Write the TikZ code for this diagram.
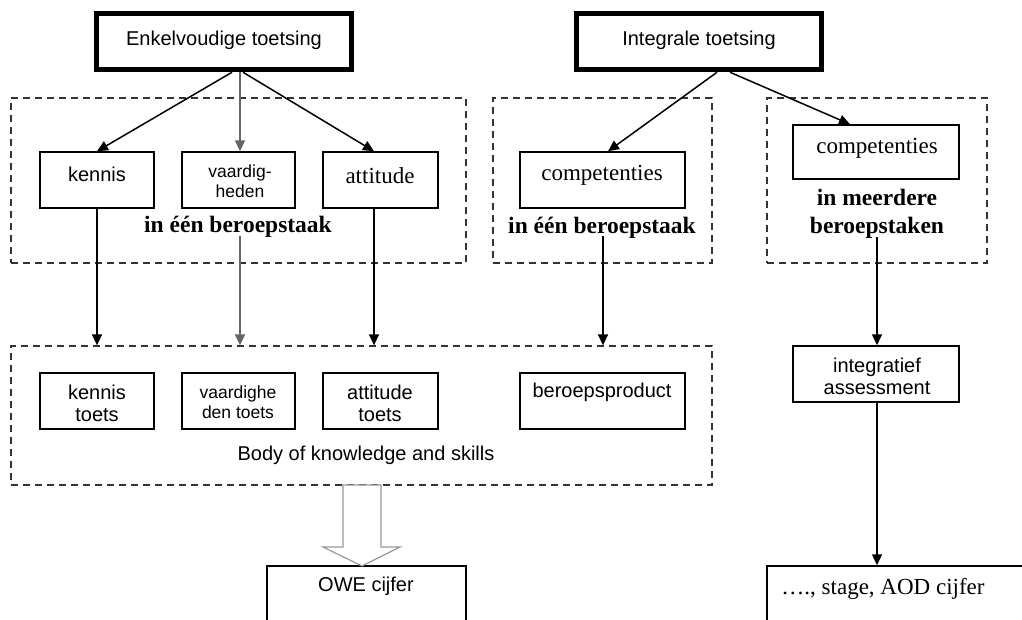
\documentclass[tikz,border=0pt]{standalone}
\usepackage{fontspec}
\setmainfont{Liberation Serif}
\setsansfont{Liberation Sans}
\usetikzlibrary{arrows.meta}
\begin{document}
\begin{tikzpicture}[x=1pt,y=-1pt,
  sans/.style={font=\sffamily\fontsize{20}{22}\selectfont, inner sep=0pt},
  sanssm/.style={font=\sffamily\fontsize{17.5}{20}\selectfont, inner sep=0pt},
  serif/.style={font=\rmfamily\fontsize{23}{28}\selectfont, inner sep=0pt},
  serifb/.style={font=\rmfamily\bfseries\fontsize{23.5}{28}\selectfont, inner sep=0pt},
  box/.style={draw, line width=1.5pt, inner sep=0pt},
  bigbox/.style={draw, line width=5.5pt, inner sep=0pt},
  dbox/.style={draw=black!80, dash pattern=on 7pt off 5pt, line width=1.3pt, inner sep=0pt},
  arr/.style={line width=1.5pt, -{Triangle[length=11pt,width=10pt]}},
  garr/.style={arr, draw=black!60, fill=black!75},
]
\clip (0,0) rectangle (1022,619);
\fill[white] (0,0) rectangle (1022,619);

% top boxes
\node[bigbox, minimum width=255, minimum height=56] (enk) at (224,41.5) {};
\node[sans] (enkT) at (224,40) {Enkelvoudige toetsing};
\node[bigbox, minimum width=245, minimum height=56] (int) at (699,41.5) {};
\node[sans] (intT) at (699,40) {Integrale toetsing};

% dashed groups
\node[dbox, minimum width=455, minimum height=165] (g1) at (238.5,180.5) {};
\node[dbox, minimum width=219, minimum height=165] (g2) at (602.5,180.5) {};
\node[dbox, minimum width=220, minimum height=165] (g3) at (877,180.5) {};
\node[dbox, minimum width=701, minimum height=139] (bok) at (361.5,415.5) {};

% row 1 boxes
\node[box, minimum width=114, minimum height=56] (ken) at (97,180) {};
\node[sans] (kenT) at (97,174) {kennis};
\node[box, minimum width=113, minimum height=56] (vaa) at (238.5,180) {};
\node[sanssm, align=center] (vaaT) at (240,181) {vaardig-\\heden};
\node[box, minimum width=115, minimum height=56] (att) at (380.5,180) {};
\node[serif] (attT) at (380,176) {attitude};
\node[box, minimum width=165, minimum height=56] (cp1) at (602.5,180) {};
\node[serif] (cp1T) at (602,175) {competenties};
\node[box, minimum width=166, minimum height=54] (cp2) at (876,152) {};
\node[serif] (cp2T) at (877,148) {competenties};

\node[serifb] (ib1) at (238,227) {in één beroepstaak};
\node[serifb] (ib2) at (602,228) {in één beroepstaak};
\node[serifb, align=center] (imb) at (877,214) {in meerdere\\beroepstaken};

% row 2 boxes
\node[box, minimum width=114, minimum height=56] (kt) at (97,401) {};
\node[sans, align=center] (ktT) at (97,403) {kennis\\toets};
\node[box, minimum width=113, minimum height=56] (vt) at (238.5,401) {};
\node[sanssm, align=center] (vtT) at (238,402) {vaardighe\\den toets};
\node[box, minimum width=115, minimum height=56] (at) at (380.5,401) {};
\node[sans, align=center] (atT) at (380,403) {attitude\\toets};
\node[box, minimum width=165, minimum height=56] (bp) at (602.5,401) {};
\node[sans] (bpT) at (602,392) {beroepsproduct};
\node[sans] (body) at (366,455) {Body of knowledge and skills};

\node[box, minimum width=166, minimum height=56] (ia) at (876,374) {};
\node[sans, align=center] (iaT) at (877,376) {integratief\\assessment};

% bottom boxes
\node[box, minimum width=199, minimum height=120] (owe) at (366.5,626) {};
\node[sans] (oweT) at (366,586) {OWE cijfer};
\node[box, minimum width=273, minimum height=120] (aod) at (903.5,626) {};
\node[serif] (aodT) at (883,589) {…., stage, AOD cijfer};

% anchor coordinates for connectors
\coordinate (vaaIn) at (vaa.north -| 240,0);
\coordinate (attIn) at (att.north -| 374,0);
\coordinate (cp1In) at (cp1.north -| 608,0);
\coordinate (cp2In) at (cp2.north -| 850,0);
\coordinate (attOut) at (att.south -| 374,0);
\coordinate (vs) at (240,236);
\coordinate (cs) at (603,236);
\coordinate (ms) at (877,237);
\coordinate (iaOut) at (ia.south -| 877,0);

% connectors top
\draw[arr] ([xshift=8pt]enk.south) -- (ken.north);
\draw[garr] ([xshift=16pt]enk.south) -- (vaaIn);
\draw[arr] ([xshift=19pt]enk.south) -- (attIn);
\draw[arr] ([xshift=18pt]int.south) -- (cp1In);
\draw[arr] ([xshift=31pt]int.south) -- (cp2In);

% vertical connectors
\draw[arr] (ken.south) -- (ken.south |- bok.north);
\draw[garr] (vs) -- (vs |- bok.north);
\draw[arr] (attOut) -- (attOut |- bok.north);
\draw[arr] (cs) -- (cs |- bok.north);
\draw[arr] (ms) -- (ms |- ia.north);
\draw[arr] (iaOut) -- (iaOut |- aod.north);

% hollow block arrow
\draw[draw=black!40, line width=1.2pt, fill=white, line join=miter]
  (343,485) -- (343,547) -- (323,547) -- (362,566) -- (400,547) -- (381,547) -- (381,485) -- cycle;
\end{tikzpicture}
\end{document}
